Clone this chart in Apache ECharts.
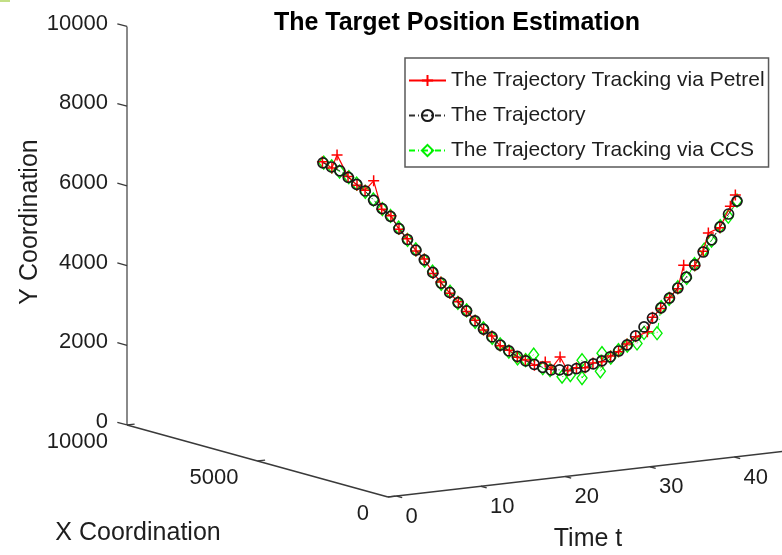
<!DOCTYPE html>
<html><head><meta charset="utf-8">
<script src="https://cdn.jsdelivr.net/npm/echarts@6/dist/echarts.min.js"></script>
<style>html,body{margin:0;padding:0;background:#fff}#c{width:782px;height:555px}</style>
</head><body><div id="c"></div>
<script>
// ---------------- data ----------------
const timeT = [1,2,3,4,5,6,7,8,9,10,11,12,13,14,15,16,17,18,19,20,21,22,23,24,25,26,27,28,29,30,31,32,33,34,35,36,37,38,39,40,41,42,43,44,45,46,47,48,49,50];
const trajX = [3140,3140,3140,3140,3140,3140,3140,3140,3140,3140,3140,3140,3140,3140,3140,3140,3140,3140,3140,3140,3140,3140,3140,3140,3140,3140,3140,3140,3140,3140,3140,3140,3140,3140,3140,3140,3140,3140,3140,3140,3140,3140,3140,3140,3140,3140,3140,3140,3140,3140];
const trajY = [7770,7640,7520,7330,7130,6940,6680,6450,6230,5900,5600,5310,5040,4700,4410,4150,3870,3640,3360,3130,2910,2680,2510,2350,2210,2100,2000,1910,1890,1860,1870,1890,1940,1990,2070,2190,2320,2520,2720,2920,3150,3370,3600,3850,4130,4430,4710,5010,5310,5610];
const petrelX = [3160,3120,3247,3150,3130,3145,3140,3155,3125,3140,3150,3135,3145,3120,3160,3140,3130,3150,3140,3135,3145,3150,3125,3140,3155,3130,3040,3145,3120,3150,3140,3130,3155,3140,3125,3145,3150,3135,3014,3140,3150,3130,3145,3240,3135,3140,3266,3150,3070,3203];
const petrelY = [7790,7620,7900,7350,7110,6960,7170,6430,6250,5880,5620,5290,5060,4680,4430,4130,3890,3620,3380,3110,2930,2660,2530,2330,2230,2080,2150,1930,2215,1840,1890,1870,1960,1970,2090,2170,2340,2500,2620,2940,3130,3390,3580,4130,4110,4450,4860,4990,5520,5750];
const ccsX = [3110,3130,3150,3120,3145,3135,3150,3130,3140,3155,3135,3145,3130,3150,3140,3125,3150,3140,3135,3145,3130,3150,3140,3130,3145,3160,3135,3180,3044,3050,2925,3250,2810,3195,3120,3150,3135,3085,3140,2965,3130,3150,3140,3125,3150,3100,3145,3135,3150,3140];
const ccsY = [7780,7660,7500,7340,7150,6920,6700,6440,6240,5920,5590,5330,5020,4720,4390,4170,3860,3650,3340,3150,2890,2700,2490,2300,2230,2340,1980,1900,1735,1750,2120,1590,2270,1720,2050,2210,2300,2340,2570,2570,3170,3350,3620,3830,4150,4500,4690,5030,5240,5620];
const seriesNames = ['The Trajectory Tracking via Petrel','The Trajectory','The Trajectory Tracking via CCS'];
const yTicks = [0,2000,4000,6000,8000,10000];
const xTicks = [0,5000,10000];
const tTicks = [0,10,20,30,40,50];
const tRange = [-1,50], xRange = [0,10000], yRange = [0,10000];

// -------- oblique 3-D view, expressed in the units of a hidden 2-D grid --------
const KX_U = 0.0030888, KT_V = 24.467, KX_V = 0.18068;
function proj(t, X, Y){ return [t - X*KX_U, Y + t*KT_V + X*KX_V]; }

const FONT = '"Liberation Sans", Arial, Helvetica, sans-serif';
const TXT = '#1e1e1e', AX = '#3a3a3a';

function line(a,b,stroke,w){ return {type:'line', shape:{x1:a[0],y1:a[1],x2:b[0],y2:b[1]}, style:{stroke:stroke,lineWidth:w}}; }
function label(p,text,align){ return {type:'text', x:p[0], y:p[1], style:{text:text, textAlign:align, textVerticalAlign:'middle', font:'22px '+FONT, fill:TXT}}; }

const yAxisSeries = {
  type:'custom', coordinateSystem:'cartesian2d', silent:true, clip:false,
  data: yTicks.map(v=>[v]),
  renderItem(params, api){
    const y = api.value(0);
    const p0 = api.coord(proj(tRange[0], xRange[1], y));
    const p1 = api.coord(proj(tRange[0], xRange[1]+370, y));
    const ch = [line(p0,p1,AX,1.3), label([p0[0]-19,p0[1]-3], String(y), 'right')];
    if(params.dataIndex===0){
      ch.unshift(line(api.coord(proj(tRange[0],xRange[1],yRange[0])), api.coord(proj(tRange[0],xRange[1],yRange[1])), '#8a8a8a', 2));
    }
    return {type:'group', children:ch};
  }
};
const xAxisSeries = {
  type:'custom', coordinateSystem:'cartesian2d', silent:true, clip:false,
  data: xTicks.map(v=>[v]),
  renderItem(params, api){
    const x = api.value(0);
    const p0 = api.coord(proj(tRange[0], x, yRange[0]));
    const p1 = api.coord(proj(tRange[0]+0.9, x, yRange[0]));
    const ch = [line(p0,p1,AX,1.3), label([p0[0]-19,p0[1]+17], String(x), 'right')];
    if(params.dataIndex===0){
      ch.unshift(line(api.coord(proj(tRange[0],xRange[0],yRange[0])), api.coord(proj(tRange[0],xRange[1],yRange[0])), AX, 1.5));
    }
    return {type:'group', children:ch};
  }
};
const tAxisSeries = {
  type:'custom', coordinateSystem:'cartesian2d', silent:true, clip:false,
  data: tTicks.map(v=>[v]),
  renderItem(params, api){
    const t = api.value(0);
    const p0 = api.coord(proj(t, xRange[0], yRange[0]));
    const p1 = api.coord(proj(t, xRange[0]-220, yRange[0]));
    const ch = [line(p0,p1,AX,1.3), label([p0[0]+9,p0[1]+20.5], String(t), 'left')];
    if(params.dataIndex===0){
      ch.unshift(line(api.coord(proj(tRange[0],xRange[0],yRange[0])), api.coord(proj(tRange[1],xRange[0],yRange[0])), AX, 1.5));
    }
    return {type:'group', children:ch};
  }
};

function pts(xs, ys){ return timeT.map((t,i)=>proj(t, xs[i], ys[i])); }
const PLUS = 'path://M0,5L10,5M5,0L5,10';
const CIRC = 'path://M10,0A10,10 0 1,1 -10,0A10,10 0 1,1 10,0Z';

const chart = echarts.init(document.getElementById('c'), null, {renderer:'canvas'});
chart.setOption({
  animation:false,
  backgroundColor:'#fff',
  title:{text:'The Target Position Estimation', left:452, top:6, textAlign:'center',
    textStyle:{fontFamily:FONT, fontSize:25, fontWeight:'bold', color:'#000'}},
  grid:{left:58.45, width:676, top:17.8, height:478.2, show:false},
  xAxis:{type:'value', min:-40, max:40, show:false},
  yAxis:{type:'value', min:0, max:12000, show:false},
  legend:{
    orient:'vertical', left:405, top:58, padding:[12,4,6,3], itemGap:14, itemWidth:37, itemHeight:14,
    borderColor:'#5a5a5a', borderWidth:1.5, backgroundColor:'#fff', selectedMode:false, z:10,
    textStyle:{fontFamily:FONT, fontSize:21, color:TXT},
    data:seriesNames
  },
  graphic:[
    {type:'rect', shape:{x:0,y:0,width:10,height:2}, style:{fill:'#c3df86'}},
    {type:'text', x:30, y:222, rotation:Math.PI/2, style:{text:'Y Coordination', textAlign:'center', textVerticalAlign:'middle', font:'25px '+FONT, fill:TXT}},
    {type:'text', x:138, y:533, style:{text:'X Coordination', textAlign:'center', textVerticalAlign:'middle', font:'25px '+FONT, fill:TXT}},
    {type:'text', x:588, y:539, style:{text:'Time t', textAlign:'center', textVerticalAlign:'middle', font:'25px '+FONT, fill:TXT}}
  ],
  series:[
    yAxisSeries, xAxisSeries, tAxisSeries,
    {name:seriesNames[0], type:'line', clip:false, silent:true, z:4, data:pts(petrelX, petrelY),
      symbol:PLUS, symbolSize:11, lineStyle:{color:'#ff0000', width:1.2},
      itemStyle:{color:'none', borderColor:'#ff0000', borderWidth:1.5}, emphasis:{disabled:true}},
    {name:seriesNames[1], type:'line', clip:false, silent:true, z:5, data:pts(trajX, trajY),
      symbol:CIRC, symbolSize:10, lineStyle:{color:'#303030', width:1, type:[6,3,1,3]},
      itemStyle:{color:'none', borderColor:'#1a1a1a', borderWidth:1.7}, emphasis:{disabled:true}},
    {name:seriesNames[2], type:'line', clip:false, silent:true, z:3, data:pts(ccsX, ccsY),
      symbol:'diamond', symbolSize:[10,13], lineStyle:{color:'#00ff00', width:1, type:[6,3,1,3]},
      itemStyle:{color:'none', borderColor:'#00ee00', borderWidth:1.4}, emphasis:{disabled:true}}
  ]
});
</script>
</body></html>
